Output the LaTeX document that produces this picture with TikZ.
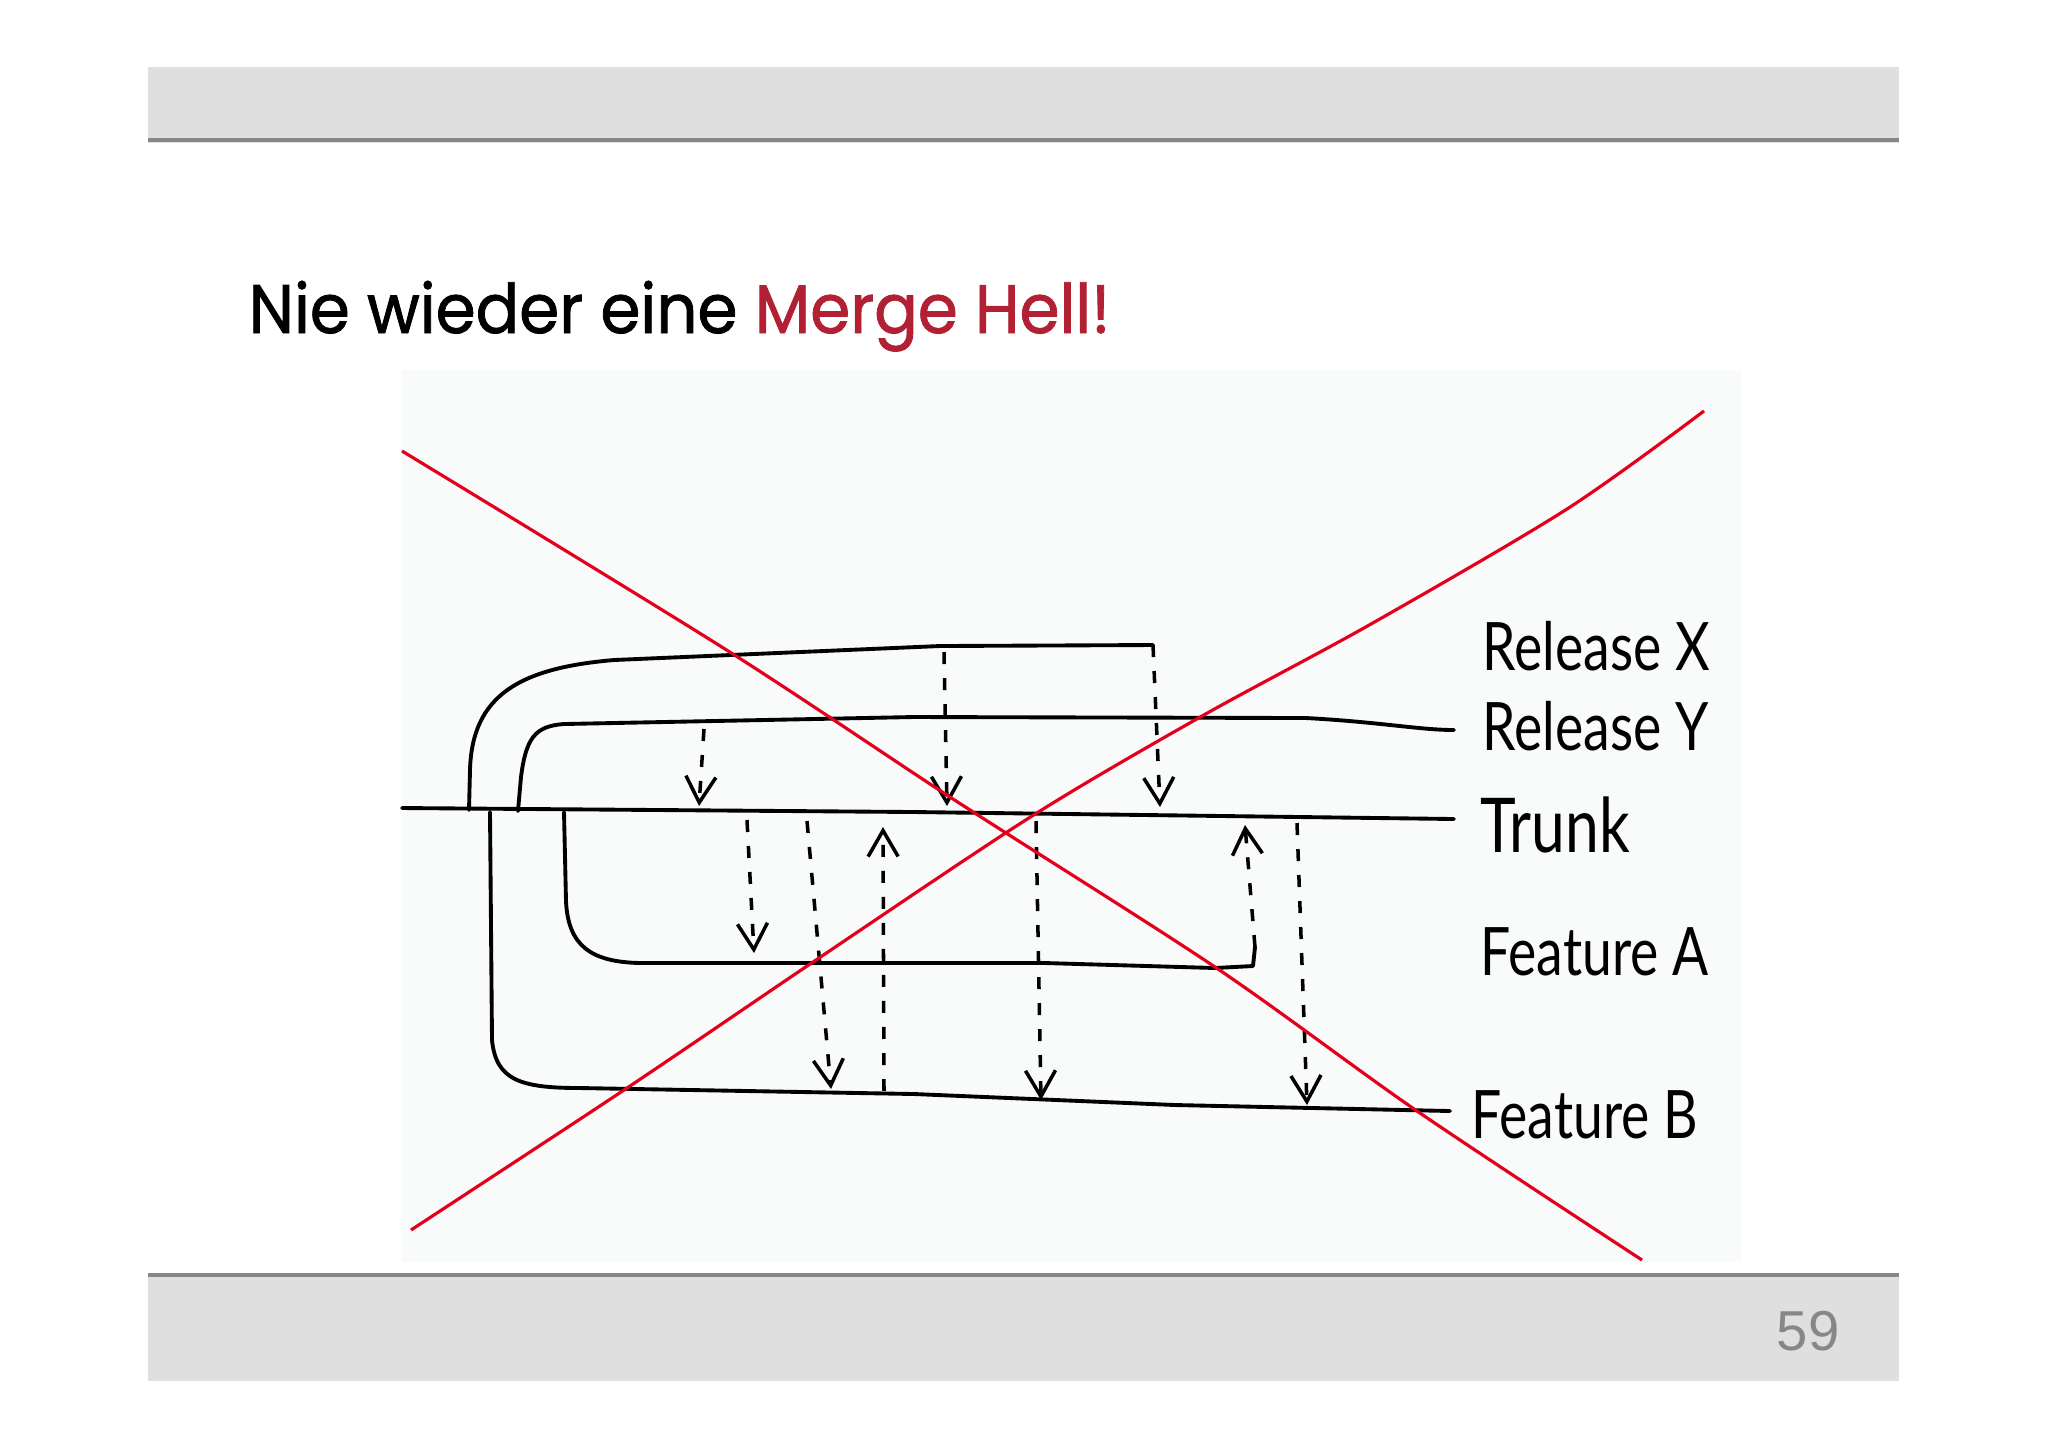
\documentclass[tikz,border=0pt]{standalone}
\usepackage{fontspec}
\usepackage{xcolor}
\usetikzlibrary{arrows.meta}
\newfontfamily\titlefont[FakeStretch=0.94, FakeBold=1.2]{Poppins}
\newfontfamily\handfont[FakeStretch=0.8]{Lato}
\newfontfamily\numfont{Liberation Sans}
\definecolor{bandgray}{RGB}{223,223,223}
\definecolor{rulegray}{RGB}{135,135,135}
\definecolor{photo}{RGB}{249,250,250}
\definecolor{hellred}{RGB}{178,32,52}
\definecolor{penred}{RGB}{228,0,27}

\begin{document}
\begin{tikzpicture}[x=0.01cm, y=-0.01cm,
        branch/.style={line width=1.1pt, line cap=round, line join=round},
        merge/.style={line width=1pt, dash pattern=on 1.2mm off 1.4mm, -{Straight Barb[length=2.6mm, width=3mm]}},
        cross/.style={penred, line width=0.9pt},
        branchname/.style={anchor=west, inner sep=0pt, font=\handfont\fontsize{19}{19}\selectfont}]
        \useasboundingbox (0, 0) rectangle (2048, 1447);
        \fill [white] (0, 0) rectangle (2048, 1447);
        \fill [bandgray] (148, 67) rectangle (1899, 143);
        \draw [rulegray, line width=1pt] (148, 140) -- (1899, 140);
        \fill [bandgray] (148, 1274) rectangle (1899, 1381);
        \draw [rulegray, line width=1pt] (148, 1275) -- (1899, 1275);
        \fill [photo] (402, 370) rectangle (1741, 1262);
        \node (title) at (248, 333) [anchor=base west, inner sep=0pt, font=\titlefont\fontsize{19.5}{24}\selectfont] {Nie wieder eine \textcolor{hellred}{Merge Hell!}};
        \node (page) at (1808, 1331) [text=rulegray, font=\numfont\fontsize{16}{18}\selectfont] {59};
        \coordinate (1) at (402, 808);
        \coordinate (2) at (1454, 819);
        \coordinate (3) at (469, 810);
        \coordinate (4) at (1153, 645);
        \coordinate (5) at (518, 811);
        \coordinate (6) at (1454, 730);
        \coordinate (7) at (564, 812);
        \coordinate (8) at (1255, 947);
        \coordinate (9) at (490, 812);
        \coordinate (10) at (1450, 1111);
        \coordinate (11) at (704, 729);
        \coordinate (12) at (699, 806);
        \coordinate (13) at (944, 652);
        \coordinate (14) at (947, 806);
        \coordinate (15) at (1160, 807);
        \coordinate (16) at (747, 820);
        \coordinate (17) at (754, 953);
        \coordinate (18) at (807, 821);
        \coordinate (19) at (831, 1089);
        \coordinate (20) at (884, 1091);
        \coordinate (21) at (883, 827);
        \coordinate (22) at (1036, 821);
        \coordinate (23) at (1041, 1100);
        \coordinate (24) at (1245, 825);
        \coordinate (25) at (1297, 823);
        \coordinate (26) at (1307, 1105);
        \draw [branch] (1) -- (914, 812) -- (2);
        \draw [branch] (3) -- (470, 770) .. controls (472, 695) and (520, 668) .. (614, 660) -- (940, 646) -- (4);
        \draw [branch] (5) -- (521, 777) .. controls (526, 738) and (535, 726) .. (564, 724) -- (914, 717) -- (1306, 718) .. controls (1380, 722) and (1420, 730) .. (6);
        \draw [branch] (7) -- (566, 901) .. controls (568, 945) and (590, 962) .. (640, 963) -- (1045, 963) -- (1215, 968) -- (1253, 966) -- (8);
        \draw [branch] (9) -- (492, 1040) .. controls (496, 1080) and (520, 1088) .. (580, 1088) -- (914, 1094) -- (1175, 1105) -- (10);
        \draw [merge] (11) -- (12);
        \draw [merge] (13) -- (14);
        \draw [merge] (4) -- (15);
        \draw [merge] (16) -- (17);
        \draw [merge] (18) -- (19);
        \draw [merge] (20) -- (21);
        \draw [merge] (22) -- (23);
        \draw [merge] (8) -- (24);
        \draw [merge] (25) -- (26);
        \node (rx) at (1482, 646) [branchname] {Release X};
        \node (ry) at (1482, 726) [branchname] {Release Y};
        \node (trunk) at (1480, 825) [branchname, font=\handfont\fontsize{21.5}{21.5}\selectfont] {Trunk};
        \node (fa) at (1480, 952) [branchname] {Feature A};
        \node (fb) at (1471, 1115) [branchname] {Feature B};
        \draw [cross] plot [smooth, tension=0.5] coordinates {(402, 451) (725, 649) (953, 799) (1215, 967) (1417, 1111) (1642, 1260)};
        \draw [cross] plot [smooth, tension=0.5] coordinates {(411, 1230) (627, 1088) (816, 960) (1032, 816) (1202, 716) (1371, 624) (1567, 509) (1704, 411)};
    \end{tikzpicture}
\end{document}
